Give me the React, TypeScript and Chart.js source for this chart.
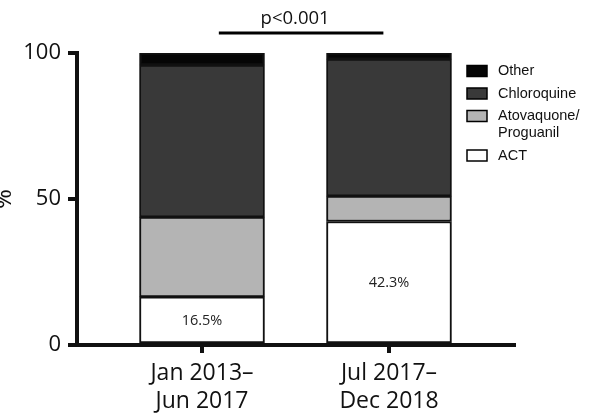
import React, { useEffect, useRef } from "react";
import { Chart, registerables } from "chart.js";

Chart.register(...registerables);

const categories: string[][] = [
  ["Jan 2013–", "Jun 2017"],
  ["Jul 2017–", "Dec 2018"],
];
const actValues = [16.5, 42.3];
const atovaquoneValues = [27.3, 8.7];
const chloroquineValues = [52.1, 46.9];
const otherValues = [4.1, 2.1];
const yTicks = [0, 50, 100];
const seriesLabels = ["ACT", "Atovaquone/\nProguanil", "Chloroquine", "Other"];
const seriesColors = ["#ffffff", "#b4b4b4", "#393939", "#050505"];
const pValueText = "p<0.001";

const FONT = "'Open Sans', sans-serif";

const toPoints = (arr: number[]) => arr.map((v, i) => ({ x: i, y: v }));

const overlayPlugin = {
  id: "overlay",
  afterDatasetsDraw(chart: any) {
    const ctx = chart.ctx;
    const ca = chart.chartArea;
    ctx.save();
    // value labels inside ACT segments
    const meta = chart.getDatasetMeta(0);
    ctx.fillStyle = "#222";
    ctx.font = `14.5px ${FONT}`;
    ctx.textAlign = "center";
    ctx.textBaseline = "middle";
    meta.data.forEach((bar: any, i: number) => {
      ctx.fillText(`${actValues[i]}%`, bar.x, (bar.y + bar.base) / 2 + 1);
    });

    // significance bracket
    const xs = chart.scales.x;
    const x1 = xs.getPixelForValue(0.09);
    const x2 = xs.getPixelForValue(0.97);
    const ly = ca.top - 20;
    ctx.strokeStyle = "#000";
    ctx.lineWidth = 3;
    ctx.beginPath();
    ctx.moveTo(x1, ly);
    ctx.lineTo(x2, ly);
    ctx.stroke();
    ctx.fillStyle = "#111";
    ctx.font = `18.5px ${FONT}`;
    ctx.textBaseline = "alphabetic";
    ctx.fillText(pValueText, (x1 + x2) / 2 - 6, ly - 9);

    // legend
    const lx = ca.right - 47;
    let y = ca.top + 18;
    ctx.textAlign = "left";
    ctx.textBaseline = "middle";
    ctx.font = `14.5px 'Liberation Sans', Arial, sans-serif`;
    for (let k = chart.data.datasets.length - 1; k >= 0; k--) {
      const ds = chart.data.datasets[k];
      ctx.fillStyle = seriesColors[k];
      ctx.fillRect(lx, y - 5.5, 20, 11);
      ctx.strokeStyle = "#000";
      ctx.lineWidth = 1.5;
      ctx.strokeRect(lx, y - 5.5, 20, 11);
      ctx.fillStyle = "#111";
      const lines = String(ds.label).split("\n");
      lines.forEach((ln: string, j: number) => {
        ctx.fillText(ln, lx + 31, y + j * 17);
      });
      y += 22.5 + (lines.length - 1) * 17;
    }
    ctx.restore();
  },
};

export default function App() {
  const ref = useRef<HTMLCanvasElement | null>(null);
  useEffect(() => {
    if (!ref.current) return;
    const valueSets = [actValues, atovaquoneValues, chloroquineValues, otherValues];
    const chart = new Chart(ref.current, {
      type: "bar",
      data: {
        datasets: valueSets.map((vals, k) => ({
          label: seriesLabels[k],
          data: toPoints(vals),
          backgroundColor: seriesColors[k],
          borderColor: "#111",
          borderWidth: 2,
          borderSkipped: false,
          barThickness: 125,
        })),
      } as any,
      options: {
        animation: false,
        responsive: false,
        maintainAspectRatio: false,
        layout: { padding: { top: 53, right: 86, left: 0, bottom: 0 } },
        plugins: {
          legend: { display: false },
          tooltip: { enabled: false },
        },
        scales: {
          x: {
            type: "linear",
            stacked: true,
            offset: false,
            min: -0.6685,
            max: 1.6685,
            afterBuildTicks: (scale: any) => {
              scale.ticks = categories.map((_, i) => ({ value: i }));
            },
            afterFit: (scale: any) => {
              scale.height = 72;
            },
            ticks: {
              callback: (v: any) => categories[v as number] ?? "",
              color: "#111",
              font: { family: FONT, size: 23, lineHeight: 1.22 },
              padding: 6,
              maxRotation: 0,
              autoSkip: false,
            },
            grid: {
              offset: false,
              drawOnChartArea: false,
              drawTicks: true,
              tickLength: 8,
              lineWidth: 4,
              color: "#111",
            },
            border: { display: true, width: 4, color: "#111" },
          },
          y: {
            stacked: true,
            min: 0,
            max: 100,
            afterBuildTicks: (scale: any) => {
              scale.ticks = yTicks.map((v) => ({ value: v }));
            },
            afterFit: (scale: any) => {
              scale.width = 91;
            },
            ticks: {
              color: "#111",
              font: { family: FONT, size: 22 },
              padding: 7,
            },
            grid: {
              drawOnChartArea: false,
              drawTicks: true,
              tickLength: 9,
              lineWidth: 4,
              color: "#111",
            },
            border: { display: true, width: 4, color: "#111" },
            title: {
              display: true,
              text: "%",
              color: "#111",
              font: { family: FONT, size: 24 },
              padding: { top: 4, bottom: 0 },
            },
          },
        },
      } as any,
      plugins: [overlayPlugin],
    });
    return () => chart.destroy();
  }, []);
  return (
    <canvas
      ref={ref}
      width={614}
      height={417}
      style={{ position: "fixed", left: -14, top: 0, width: 614, height: 417, background: "#fff" }}
    />
  );
}
